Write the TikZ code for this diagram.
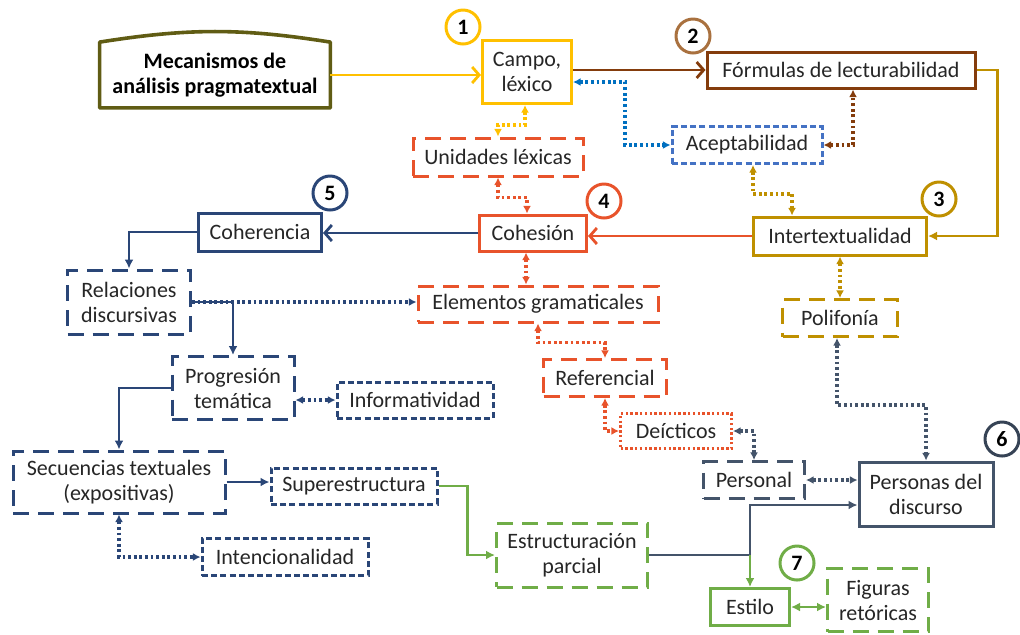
\documentclass[tikz,border=0pt]{standalone}
\usepackage{fontspec}
\setmainfont{Carlito}
\usepackage{xcolor}
\usepackage{tikz}
\usetikzlibrary{arrows.meta}
\definecolor{amarillo}{HTML}{FFC000}
\definecolor{marron}{HTML}{843C0C}
\definecolor{canela}{HTML}{A9713F}
\definecolor{azulclaro}{HTML}{0070C0}
\definecolor{azulacep}{HTML}{4472C4}
\definecolor{dorado}{HTML}{BF9000}
\definecolor{naranja}{HTML}{E8532B}
\definecolor{marino}{HTML}{2A4677}
\definecolor{pizarra}{HTML}{44546A}
\definecolor{verde}{HTML}{70AD47}
\definecolor{oliva}{HTML}{605C14}
\definecolor{texto}{HTML}{262626}
\tikzset{flecha/.style = {->,> = {Latex[length=4.5pt,width=4.5pt]}}}

\begin{document}
\begin{tikzpicture}[x=0.5pt,y=-0.5pt,font=\fontsize{11}{12.5}\selectfont,
    caja/.style={draw,line width=1.5pt,align=center,inner sep=2pt,text=texto},
    raya/.style={dash pattern=on 8pt off 4.5pt},
    rayita/.style={dash pattern=on 3pt off 1.6pt},
    punteo/.style={dash pattern=on 1.2pt off 1.2pt},
    num/.style={circle,draw,line width=1.5pt,minimum size=17pt,inner sep=0pt,font=\fontsize{11}{12.5}\selectfont\bfseries},
    sol/.style={flecha,line width=1.4pt},
    gancho/.style={->,>={Straight Barb[length=3.5pt,width=8pt]},line width=1.4pt},
    pun/.style={<->,>={Latex[length=3.8pt,width=4pt]},line width=1.6pt,dash pattern=on 1.4pt off 1.4pt}]
    \useasboundingbox (0,0) rectangle (1020,634);

    \node[align=center,minimum width=115pt,minimum height=32.5pt,font=\fontsize{11}{12.5}\selectfont\bfseries] (mecanismos) at (215,75) {Mecanismos de\\análisis pragmatextual};
    \draw[oliva,line width=1.8pt,line join=round] (mecanismos.south west) -- (mecanismos.south east) -- (mecanismos.north east) to[bend right=9] (mecanismos.north west) -- cycle;

    \node[caja,draw=amarillo,minimum width=44.5pt,minimum height=31.5pt] (campo) at (527,72) {Campo,\\léxico};
    \node[caja,draw=marron,minimum width=134pt,minimum height=18pt] (formulas) at (841,70) {Fórmulas de lecturabilidad};
    \node[caja,draw=naranja,raya,minimum width=85pt,minimum height=19pt] (unidades) at (498,157) {Unidades léxicas};
    \node[caja,draw=azulacep,rayita,minimum width=75pt,minimum height=18.5pt] (aceptabilidad) at (747,145) {Aceptabilidad};
    \node[caja,draw=marino,minimum width=61.5pt,minimum height=19pt] (coherencia) at (260,232) {Coherencia};
    \node[caja,draw=naranja,minimum width=53.5pt,minimum height=18pt] (cohesion) at (533,233) {Cohesión};
    \node[caja,draw=dorado,minimum width=86.5pt,minimum height=19pt] (intertextualidad) at (840,236) {Intertextualidad};
    \node[caja,draw=marino,raya,minimum width=61.5pt,minimum height=32pt] (relaciones) at (129,302) {Relaciones\\discursivas};
    \node[caja,draw=naranja,raya,minimum width=120pt,minimum height=18pt] (elementos) at (538,304) {Elementos gramaticales};
    \node[caja,draw=dorado,raya,minimum width=57.5pt,minimum height=18.5pt] (polifonia) at (840,318) {Polifonía};
    \node[caja,draw=marino,raya,minimum width=61pt,minimum height=31.5pt] (progresion) at (233,388) {Progresión\\temática};
    \node[caja,draw=marino,rayita,minimum width=78pt,minimum height=18pt] (informatividad) at (415,400) {Informatividad};
    \node[caja,draw=naranja,raya,minimum width=61.5pt,minimum height=18.5pt] (referencial) at (605,378) {Referencial};
    \node[caja,draw=naranja,punteo,minimum width=55.5pt,minimum height=17.5pt] (deicticos) at (676,431) {Deícticos};
    \node[caja,draw=marino,raya,minimum width=106pt,minimum height=31pt] (secuencias) at (119,482) {Secuencias textuales\\(expositivas)};
    \node[caja,draw=marino,rayita,minimum width=83pt,minimum height=18pt] (superestructura) at (354,486) {Superestructura};
    \node[caja,draw=pizarra,raya,minimum width=50.5pt,minimum height=18.5pt] (personal) at (754,480) {Personal};
    \node[caja,draw=pizarra,minimum width=67pt,minimum height=32pt] (personas) at (926,494) {Personas del\\discurso};
    \node[caja,draw=verde,raya,minimum width=75.5pt,minimum height=32pt] (estructuracion) at (572,555) {Estructuración\\parcial};
    \node[caja,draw=marino,rayita,minimum width=83pt,minimum height=18.5pt] (intencionalidad) at (285,557) {Intencionalidad};
    \node[caja,draw=verde,minimum width=39.5pt,minimum height=18.5pt] (estilo) at (750,607) {Estilo};
    \node[caja,draw=verde,raya,minimum width=50.5pt,minimum height=31.5pt] (figuras) at (878,600) {Figuras\\retóricas};

    % numeros
    \node[num,draw=amarillo] (n1) at (463,27) {1};
    \node[num,draw=canela] (n2) at (693,36) {2};
    \node[num,draw=dorado] (n3) at (939,199) {3};
    \node[num,draw=naranja] (n4) at (604,201) {4};
    \node[num,draw=marino] (n5) at (330,193) {5};
    \node[num,draw=pizarra!80!black] (n6) at (1002,439) {6};
    \node[num,draw=verde] (n7) at (797,563) {7};

    % conexiones
    \path[gancho,amarillo] (mecanismos.east) edge (campo.west |- mecanismos.east);
    \path[gancho,marron] (campo.east |- formulas.west) edge (formulas.west);
    \path[gancho,naranja] (intertextualidad.west) edge (intertextualidad.west -| cohesion.east);
    \path[gancho,marino] (cohesion.west) edge (cohesion.west -| coherencia.east);
    \draw[sol,dorado] (formulas.east) -- ++(21,0) |- (intertextualidad.east);
    \draw[sol,marino] (coherencia.west) -| (relaciones.north);
    \draw[sol,marino] (relaciones.east) -| (progresion.north);
    \draw[sol,marino] (progresion.west) -| (secuencias.north);
    \path[sol,marino] (secuencias.east) edge (secuencias.east -| superestructura.west);
    \draw[sol,verde] (superestructura.east) -- ++(29,0) |- (estructuracion.west);
    \coordinate (cruce) at (estructuracion.east -| estilo.north);
    \draw[sol,pizarra] (estructuracion.east) -- (cruce) |- ([yshift=-5.5pt]personas.west);
    \draw[sol,verde] (cruce) -- (estilo.north);
    \path[sol,<->,verde] (estilo.east) edge (estilo.east -| figuras.west);

    \draw[pun,amarillo] ([xshift=-1pt]campo.south) -- ++(0,20) -| (unidades.north);
    \draw[pun,azulclaro] ([yshift=-5pt]campo.east) -- ++(52,0) |- (aceptabilidad.west);
    \draw[pun,marron] (aceptabilidad.east) -| ([xshift=6pt]formulas.south);
    \draw[pun,dorado] ([xshift=3pt]aceptabilidad.south) -- ++(0,29) -| ([xshift=-24pt]intertextualidad.north);
    \draw[pun,naranja] (unidades.south) -- ++(0,20) -| ([xshift=-3pt]cohesion.north);
    \draw[pun,naranja] ([xshift=-3.5pt]cohesion.south) -- ([xshift=-3.5pt]cohesion.south |- elementos.north);
    \draw[pun,-{Latex[length=3.8pt,width=4pt]},marino] (relaciones.east) -- (relaciones.east -| elementos.west);
    \draw[pun,marino] (informatividad.west -| progresion.east) -- (informatividad.west);
    \draw[pun,marino] (secuencias.south) |- (intencionalidad.west);
    \draw[pun,naranja] (elementos.south) -- ++(0,19) -| (referencial.north);
    \draw[pun,naranja] (referencial.south) |- (deicticos.west);
    \draw[pun,pizarra] (deicticos.east) -| (personal.north);
    \draw[pun,dorado] (intertextualidad.south) -- (polifonia.north);
    \draw[pun,pizarra] ([xshift=-1.5pt]polifonia.south) -- ++(0,67) -| (personas.north);
    \draw[pun,pizarra] (personal.east) -- (personal.east -| personas.west);
\end{tikzpicture}
\end{document}
